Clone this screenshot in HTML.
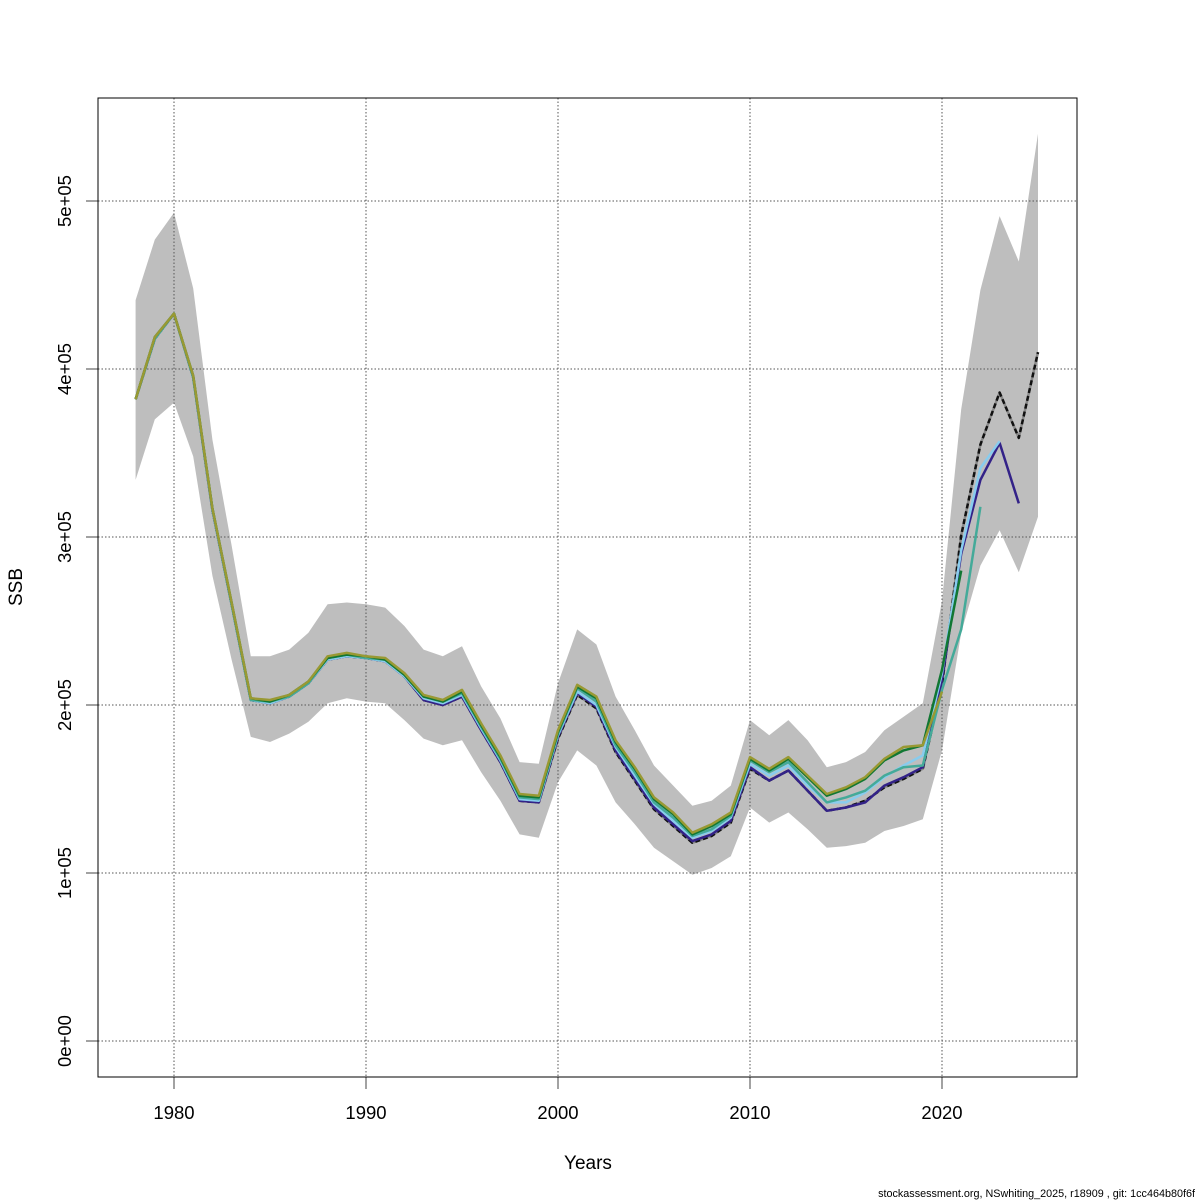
<!DOCTYPE html>
<html><head><meta charset="utf-8"><style>
html,body{margin:0;padding:0;background:#fff;}
svg{display:block;font-family:"Liberation Sans",sans-serif;}
</style></head><body>
<svg id="chart" width="1200" height="1200" viewBox="0 0 1200 1200" xmlns="http://www.w3.org/2000/svg">
<rect width="1200" height="1200" fill="#fff"/>
<g id="band"></g><g id="grid"></g><g id="lines"></g><g id="axes"></g>
<text x="588" y="1169" font-size="19" text-anchor="middle">Years</text>
<text transform="translate(22,587) rotate(-90)" font-size="19" text-anchor="middle">SSB</text>
<text x="1195" y="1197" font-size="10.8" text-anchor="end">stockassessment.org, NSwhiting_2025, r18909 , git: 1cc464b80f6f</text>
</svg>
<script>
const years=[1978,1979,1980,1981,1982,1983,1984,1985,1986,1987,1988,1989,1990,1991,1992,1993,1994,1995,1996,1997,1998,1999,2000,2001,2002,2003,2004,2005,2006,2007,2008,2009,2010,2011,2012,2013,2014,2015,2016,2017,2018,2019,2020,2021,2022,2023,2024,2025];
const xTicks=[1980,1990,2000,2010,2020];
const yTicks=[0,1e5,2e5,3e5,4e5,5e5];
const yTickLabels=["0e+00","1e+05","2e+05","3e+05","4e+05","5e+05"];
const ssbMain=[3.82,4.18,4.33,3.95,3.16,2.60,2.03,2.01,2.05,2.13,2.27,2.29,2.28,2.26,2.17,2.03,2.00,2.05,1.85,1.66,1.43,1.42,1.80,2.06,1.98,1.72,1.55,1.38,1.28,1.18,1.22,1.30,1.62,1.55,1.61,1.49,1.37,1.39,1.43,1.51,1.56,1.62,2.12,3.01,3.55,3.86,3.59,4.10];
const bandUpper=[4.41,4.77,4.93,4.48,3.58,2.95,2.29,2.29,2.33,2.43,2.60,2.61,2.60,2.58,2.47,2.33,2.29,2.35,2.11,1.92,1.66,1.65,2.13,2.45,2.36,2.05,1.85,1.64,1.52,1.40,1.43,1.52,1.91,1.82,1.91,1.79,1.63,1.66,1.72,1.85,1.93,2.01,2.62,3.76,4.47,4.91,4.64,5.40];
const bandLower=[3.34,3.70,3.80,3.48,2.77,2.27,1.81,1.78,1.83,1.90,2.01,2.04,2.02,2.01,1.91,1.80,1.76,1.79,1.60,1.43,1.23,1.21,1.54,1.73,1.64,1.42,1.29,1.15,1.07,0.99,1.03,1.10,1.39,1.30,1.36,1.26,1.15,1.16,1.18,1.25,1.28,1.32,1.73,2.43,2.83,3.04,2.79,3.12];
const retroNavy=[3.82,4.18,4.33,3.95,3.16,2.60,2.03,2.01,2.05,2.13,2.27,2.29,2.28,2.26,2.17,2.03,2.00,2.05,1.85,1.66,1.43,1.42,1.81,2.07,1.99,1.73,1.56,1.39,1.29,1.19,1.23,1.31,1.63,1.55,1.61,1.49,1.37,1.39,1.42,1.52,1.57,1.63,2.15,2.90,3.34,3.56,3.20];
const retroLightBlue=[3.82,4.18,4.33,3.95,3.16,2.60,2.03,2.01,2.05,2.13,2.27,2.29,2.28,2.26,2.17,2.04,2.01,2.06,1.86,1.67,1.44,1.43,1.82,2.08,2.00,1.75,1.58,1.41,1.31,1.21,1.25,1.33,1.65,1.58,1.64,1.52,1.42,1.42,1.48,1.57,1.64,1.70,2.19,2.92,3.41,3.57];
const retroTeal=[3.82,4.18,4.33,3.95,3.17,2.60,2.03,2.02,2.05,2.13,2.28,2.30,2.28,2.27,2.18,2.05,2.02,2.07,1.87,1.68,1.45,1.44,1.83,2.10,2.02,1.76,1.60,1.42,1.33,1.22,1.26,1.34,1.67,1.60,1.66,1.54,1.42,1.45,1.49,1.58,1.63,1.64,2.09,2.45,3.18];
const retroGreen=[3.82,4.19,4.33,3.96,3.17,2.61,2.04,2.02,2.06,2.14,2.28,2.30,2.29,2.27,2.18,2.05,2.02,2.08,1.88,1.69,1.46,1.45,1.84,2.11,2.04,1.78,1.62,1.44,1.35,1.23,1.28,1.35,1.68,1.61,1.68,1.57,1.46,1.50,1.56,1.67,1.73,1.76,2.21,2.80];
const retroOlive=[3.82,4.19,4.33,3.96,3.17,2.61,2.04,2.03,2.06,2.14,2.29,2.31,2.29,2.28,2.19,2.06,2.03,2.09,1.89,1.70,1.47,1.46,1.85,2.12,2.05,1.79,1.63,1.45,1.36,1.24,1.29,1.36,1.69,1.62,1.69,1.58,1.47,1.51,1.57,1.68,1.75,1.76,2.08];
const UNIT=1e5;
const L=98,R=1077,T=98,B=1077;
function xs(yr){return 174+(yr-1980)*19.2;}
function ys(v){return 1041-v/1e5*168;}
const NS="http://www.w3.org/2000/svg";
function mk(tag,attrs,parent){const e=document.createElementNS(NS,tag);for(const k in attrs)e.setAttribute(k,attrs[k]);parent.appendChild(e);return e;}
const band=document.getElementById('band'),grid=document.getElementById('grid'),lines=document.getElementById('lines'),axes=document.getElementById('axes');
let pts=[];
years.forEach((y,i)=>pts.push(xs(y).toFixed(1)+','+ys(bandUpper[i]*UNIT).toFixed(1)));
for(let i=years.length-1;i>=0;i--)pts.push(xs(years[i]).toFixed(1)+','+ys(bandLower[i]*UNIT).toFixed(1));
const poly=mk('polygon',{points:pts.join(' '),fill:'#bebebe',stroke:'none'},band);


xTicks.forEach(t=>{
  const g=mk('line',{x1:xs(t),x2:xs(t),y1:T,y2:B,stroke:'#555','stroke-width':1,'stroke-dasharray':'1.5,2'},grid);
  
  
  const tk=mk('line',{x1:xs(t),x2:xs(t),y1:B,y2:B+12,stroke:'#444','stroke-width':1},axes);
  
  
  const tx=mk('text',{x:xs(t),y:B+42,'font-size':18.5,'text-anchor':'middle'},axes);
  tx.textContent=t;
  
  
});
yTicks.forEach((t,i)=>{
  const g=mk('line',{x1:L,x2:R,y1:ys(t),y2:ys(t),stroke:'#555','stroke-width':1,'stroke-dasharray':'1.5,2'},grid);
  
  
  const tk=mk('line',{x1:L-12,x2:L,y1:ys(t),y2:ys(t),stroke:'#444','stroke-width':1},axes);
  
  
  const tx=mk('text',{transform:'translate(71,'+ys(t)+') rotate(-90)','font-size':18.5,'text-anchor':'middle'},axes);
  tx.textContent=yTickLabels[i];
  
  
});
const box=mk('rect',{x:L,y:T,width:R-L,height:B-T,fill:'none',stroke:'#000','stroke-width':1},axes);


function path(arr){return arr.map((v,i)=>(i?'L':'M')+xs(years[i]).toFixed(1)+','+ys(v*UNIT).toFixed(1)).join(' ');}
const w=mk('path',{d:path(ssbMain),fill:'none',stroke:'#888','stroke-width':2.5,'stroke-linejoin':'round'},lines);


const m=mk('path',{d:path(ssbMain),fill:'none',stroke:'#111','stroke-width':2.5,'stroke-dasharray':'5,3','stroke-linejoin':'round'},lines);


const retros=[[retroNavy,'#332288','retro-line-2024'],[retroLightBlue,'#88CCEE','retro-line-2023'],[retroTeal,'#44AA99','retro-line-2022'],[retroGreen,'#117733','retro-line-2021'],[retroOlive,'#999933','retro-line-2020']];
retros.forEach(r=>{
  const p=mk('path',{d:path(r[0]),fill:'none',stroke:r[1],'stroke-width':2.5,'stroke-linejoin':'round'},lines);
  
  
});
</script>
</body></html>
